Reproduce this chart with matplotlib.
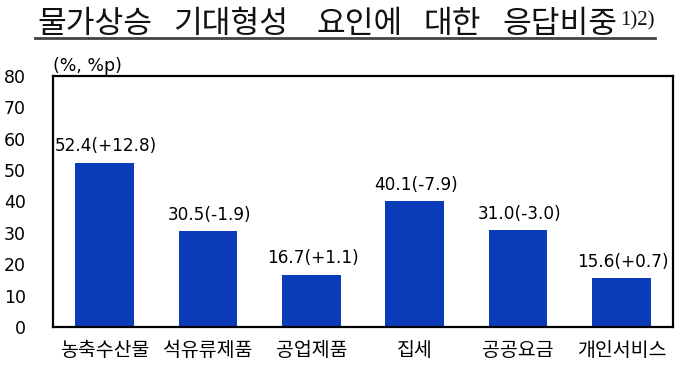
import matplotlib
matplotlib.use("Agg")
import matplotlib.pyplot as plt

plt.rcParams['font.family'] = ['Noto Sans CJK KR', 'DejaVu Sans']

categories = ['농축수산물', '석유류제품', '공업제품', '집세', '공공요금', '개인서비스']
values = [52.4, 30.5, 16.7, 40.1, 31.0, 15.6]
changes = ['+12.8', '-1.9', '+1.1', '-7.9', '-3.0', '+0.7']
yticks = [0, 10, 20, 30, 40, 50, 60, 70, 80]
title_words = ['물가상승', '기대형성', '요인에', '대한', '응답비중']

W, H = 680, 366
fig = plt.figure(figsize=(6.8, 3.66), dpi=100)
ax = fig.add_axes([53/W, 1 - 327/H, 620/W, 251/H])

x = list(range(len(categories)))
ax.bar(x, values, width=0.57, color='#0A3CBA')
for xi, v, c in zip(x, values, changes):
    ax.annotate(f'{v:.1f}({c})', (xi, v), xytext=(1, 8), textcoords='offset points',
                ha='center', va='baseline', fontsize=12.2, family='DejaVu Sans', color='black')

ax.set_xlim(-0.5, len(categories) - 0.5)
ax.set_ylim(0, 80)
ax.set_yticks(yticks)
ax.set_yticklabels([str(t) for t in yticks], fontsize=12.5, family='DejaVu Sans')
ax.set_xticks(x)
ax.set_xticklabels(categories, fontsize=14)
ax.tick_params(axis='y', length=0, pad=19.5)
ax.tick_params(axis='x', length=0, pad=9)
for s in ax.spines.values():
    s.set_linewidth(1.6)
    s.set_color('black')

fig.text(53/W, 1 - 71/H, '(%, %p)', fontsize=12.5, family='DejaVu Sans', ha='left', va='baseline')

# title: words placed at measured positions
word_x = [37, 173, 317, 423, 502]
for wx, w in zip(word_x, title_words):
    fig.text(wx/W, 1 - 33/H, w, fontsize=22.5, ha='left', va='baseline', color='#111111')
fig.text(620/W, 1 - 25/H, '1)2)', fontsize=15, family='Liberation Serif', ha='left', va='baseline',
         color='#111111')
fig.add_artist(plt.Line2D([35/W, 655/W], [1 - 37.5/H, 1 - 37.5/H], color='#444444',
                          linewidth=2.0, transform=fig.transFigure))

fig.savefig('out.png', dpi=100)
